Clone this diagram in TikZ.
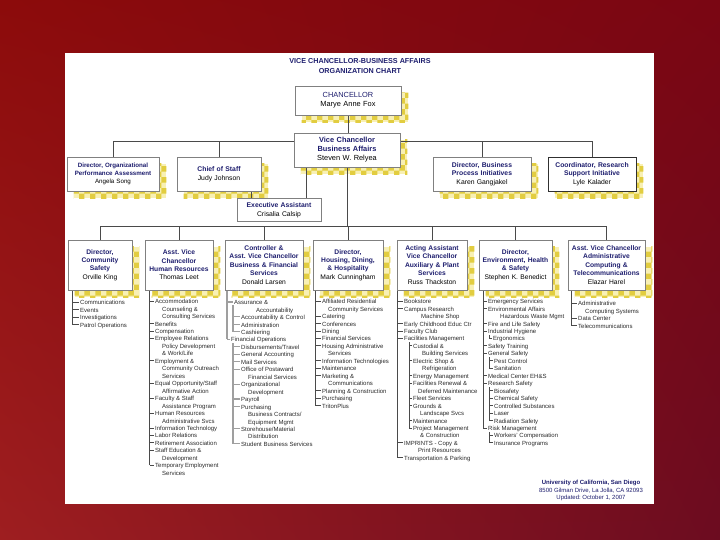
\documentclass[tikz,border=0pt]{standalone}
\usepackage{fontspec}
\setmainfont{Liberation Sans}
\usetikzlibrary{patterns,calc,shadings}
\frenchspacing
\definecolor{navy}{HTML}{1E1E6E}
\definecolor{boxgray}{HTML}{808080}
\definecolor{boxdark}{HTML}{303030}
\definecolor{linegray}{HTML}{4A4A4A}
\definecolor{listtxt}{HTML}{2B2B2B}
\definecolor{chkA}{HTML}{F8F0B4}
\definecolor{chkB}{HTML}{E2CD40}
\definecolor{redUL}{HTML}{8C0B0B}
\definecolor{redUR}{HTML}{7A0613}
\definecolor{redLL}{HTML}{9E1E20}
\definecolor{redLR}{HTML}{6C0C20}
\pgfdeclarelayer{back}\pgfdeclarelayer{shad}\pgfdeclarelayer{lines}
\pgfsetlayers{back,shad,lines,main}
\newcommand\bxhd[1]{{\bfseries\color{navy}#1}}
\def\mknone{n}
\newcommand\mklist[4]{%
  \foreach \i/\xx/\tk/\t in {#4}{%
    \node[li] (#1-\i) at (\xx,{#2+(\i-1)*7.46}) {\t};
    \edef\mktmp{\tk}%
    \ifx\mktmp\mknone\else
      \begin{pgfonlayer}{lines}\draw[#3] (\tk |- #1-\i.mid west) -- ([xshift=-1pt]#1-\i.mid west);\end{pgfonlayer}%
    \fi
  }}
\tikzset{
  bx/.style={draw=boxgray, fill=white, line width=0.6pt, inner sep=0.5pt, align=center, text=black},
  rowthree/.style={bx, font=\fontsize{6.7}{8.4}\selectfont, minimum height=50pt},
  rowtwo/.style={bx, font=\fontsize{6.8}{8.6}\selectfont, minimum height=34pt},
  li/.style={font=\fontsize{6}{7}\selectfont, text=listtxt, inner sep=0pt, anchor=mid west},
  tree/.style={draw=linegray, line width=0.6pt},
  treethick/.style={draw=gray!75, line width=1.1pt},
  conn/.style={draw=linegray, line width=0.6pt},
}
\begin{document}
\begin{tikzpicture}[x=1pt,y=-1pt]
\useasboundingbox (0,0) rectangle (720,540);
\begin{pgfonlayer}{back}
  \shade[upper left=redUL, upper right=redUR, lower left=redLL, lower right=redLR] (0,0) rectangle (720,540);
  \fill[white] (65,53) rectangle (654,504);
\end{pgfonlayer}

% title
\node[font=\bfseries\fontsize{7.2}{10}\selectfont, text=navy, align=center] (title) at (360,66)
  {VICE CHANCELLOR-BUSINESS AFFAIRS\\ORGANIZATION CHART};

% top boxes
\node[bx, font=\fontsize{7.4}{9}\selectfont, text width=105pt, minimum height=29pt] (ch) at (348,100.5)
  {{\color{navy}CHANCELLOR}\\Marye Anne Fox};
\node[bx, font=\fontsize{7.4}{9}\selectfont, text width=105pt, minimum height=34pt] (vc) at (347,150)
  {\bxhd{Vice Chancellor\\Business Affairs}\\Steven W. Relyea};

% row two
\node[rowtwo, font=\fontsize{6.2}{8.2}\selectfont, text width=91pt] (d1) at (113,174)
  {\bxhd{Director, Organizational\\Performance Assessment}\\Angela Song};
\node[rowtwo, text width=83pt] (d2) at (219,174) {\bxhd{Chief of Staff}\\Judy Johnson};
\node[rowtwo, text width=97pt] (d3) at (482,174) {\bxhd{Director, Business\\Process Initiatives}\\Karen Gangjakel};
\node[rowtwo, draw=boxdark, text width=87pt] (d4) at (592,174) {\bxhd{Coordinator, Research\\Support Initiative}\\Lyle Kalader};
\node[bx, font=\fontsize{6.8}{8.6}\selectfont, text width=83pt, minimum height=23pt] (ex) at (279,210)
  {\bxhd{Executive Assistant}\\Crisalia Calsip};

% row three
\node[rowthree, text width=63pt] (b1) at (100,265) {\bxhd{Director,\\Community\\Safety}\\Orville King};
\node[rowthree, text width=67pt] (b2) at (179,265) {\bxhd{Asst. Vice\\Chancellor\\Human Resources}\\Thomas Leet};
\node[rowthree, text width=77pt] (b3) at (264,265) {\bxhd{Controller \&\\Asst. Vice Chancellor\\Business \& Financial\\Services}\\Donald Larsen};
\node[rowthree, text width=69pt] (b4) at (348,265) {\bxhd{Director,\\Housing, Dining,\\\& Hospitality}\\Mark Cunningham};
\node[rowthree, text width=69pt] (b5) at (432,265) {\bxhd{Acting Assistant\\Vice Chancellor\\Auxiliary \& Plant\\Services}\\Russ Thackston};
\node[rowthree, text width=72pt] (b6) at (515.5,265) {\bxhd{Director,\\Environment, Health\\\& Safety}\\Stephen K. Benedict};
\node[rowthree, text width=76pt] (b7) at (606.5,265) {\bxhd{Asst. Vice Chancellor\\Administrative\\Computing \&\\Telecommunications}\\Elazar Harel};

% shadows
\begin{pgfonlayer}{shad}
\foreach \n in {ch,vc,d1,d2,d3,d4,b1,b2,b3,b4,b5,b6,b7}{
  \fill[chkA] ([shift={(7,7)}]\n.north west) rectangle ([shift={(7,7)}]\n.south east);
  \fill[pattern=checkerboard, pattern color=chkB] ([shift={(7,7)}]\n.north west) rectangle ([shift={(7,7)}]\n.south east);
}
\end{pgfonlayer}

% connectors
\coordinate (bustwo) at (0,141);
\coordinate (busthree) at (0,226);
\coordinate (vx) at (306,0);
\coordinate (cx) at (251,0);
\begin{pgfonlayer}{lines}
  \draw[conn] (ch.south) -- (ch.south |- vc.north);
  \draw[conn] (d1.north |- bustwo) -- (d4.north |- bustwo);
  \foreach \n in {d1,d2,d3,d4} \draw[conn] (\n.north) -- (\n.north |- bustwo);
  \draw[conn] (vc.south) -- (vc.south |- busthree);
  \draw[conn] (b1.north |- busthree) -- (b7.north |- busthree);
  \foreach \n in {b1,b2,b3,b4,b5,b6,b7} \draw[conn] (\n.north) -- (\n.north |- busthree);
  \draw[conn] (vx |- vc.south) -- (vx |- ex.north);
  \draw[conn] (cx |- d2.south) -- (cx |- ex.north);
\end{pgfonlayer}

% trunk x positions
\coordinate (T1) at (72,0);
\coordinate (T2) at (149.5,0);
\coordinate (T3) at (227,0);
\coordinate (S3) at (233,0);
\coordinate (T4) at (315,0);
\coordinate (T5) at (397.5,0);
\coordinate (S5) at (409,0);
\coordinate (T6) at (483,0);
\coordinate (S6) at (489,0);
\coordinate (T7) at (571,0);

\mklist{c1}{302}{tree}{1/80/T1/{Communications},2/80/T1/{Events},3/80/T1/{Investigations},4/80/T1/{Patrol Operations}}

\mklist{c2}{301}{tree}{1/155/T2/{Accommodation},2/162/n/{Counseling \&},3/162/n/{Consulting Services},
4/155/T2/{Benefits},5/155/T2/{Compensation},6/155/T2/{Employee Relations},7/162/n/{Policy Development},
8/162/n/{\& Work/Life},9/155/T2/{Employment \&},10/162/n/{Community Outreach},11/162/n/{Services},
12/155/T2/{Equal Opportunity/Staff},13/162/n/{Affirmative Action},14/155/T2/{Faculty \& Staff},
15/162/n/{Assistance Program},16/155/T2/{Human Resources},17/162/n/{Administrative Svcs},
18/155/T2/{Information Technology},19/155/T2/{Labor Relations},20/155/T2/{Retirement Association},
21/155/T2/{Staff Education \&},22/162/n/{Development},23/155/T2/{Temporary Employment},24/162/n/{Services}}

\mklist{c3}{302}{treethick}{1/234/T3/{Assurance \&},2/256/n/{Accountability},3/241/S3/{Accountability \& Control},
4/241/S3/{Administration},5/241/S3/{Cashiering},6/231/T3/{Financial Operations},7/241/S3/{Disbursements/Travel},
8/241/S3/{General Accounting},9/241/S3/{Mail Services},10/241/S3/{Office of Postaward},11/248/n/{Financial Services},
12/241/S3/{Organizational},13/248/n/{Development},14/241/S3/{Payroll},15/241/S3/{Purchasing},
16/248/n/{Business Contracts/},17/248/n/{Equipment Mgmt},18/241/S3/{Storehouse/Material},19/248/n/{Distribution},
20/241/S3/{Student Business Services}}

\mklist{c4}{301}{tree}{1/322/T4/{Affiliated Residential},2/328/n/{Community Services},3/322/T4/{Catering},
4/322/T4/{Conferences},5/322/T4/{Dining},6/322/T4/{Financial Services},7/322/T4/{Housing Administrative},
8/328/n/{Services},9/322/T4/{Information Technologies},10/322/T4/{Maintenance},11/322/T4/{Marketing \&},
12/328/n/{Communications},13/322/T4/{Planning \& Construction},14/322/T4/{Purchasing},15/322/T4/{TritonPlus}}

\mklist{c5}{301}{tree}{1/404/T5/{Bookstore},2/404/T5/{Campus Research},3/421/n/{Machine Shop},
4/404/T5/{Early Childhood Educ Ctr},5/404/T5/{Faculty Club},6/404/T5/{Facilities Management},
7/413/S5/{Custodial \&},8/422/n/{Building Services},9/413/S5/{Electric Shop \&},10/422/n/{Refrigeration},
11/413/S5/{Energy Management},12/413/S5/{Facilities Renewal \&},13/418/n/{Deferred Maintenance},
14/413/S5/{Fleet Services},15/413/S5/{Grounds \&},16/420/n/{Landscape Svcs},17/413/S5/{Maintenance},
18/413/S5/{Project Management},19/420/n/{\& Construction},20/404/T5/{IMPRINTS - Copy \&},
21/418/n/{Print Resources},22/404/T5/{Transportation \& Parking}}

\mklist{c6}{301}{tree}{1/488/T6/{Emergency Services},2/488/T6/{Environmental Affairs},3/500/n/{Hazardous Waste Mgmt},
4/488/T6/{Fire and Life Safety},5/488/T6/{Industrial Hygiene},6/493/S6/{Ergonomics},7/488/T6/{Safety Training},
8/488/T6/{General Safety},9/494/S6/{Pest Control},10/494/S6/{Sanitation},11/488/T6/{Medical Center EH\&S},
12/488/T6/{Research Safety},13/494/S6/{Biosafety},14/494/S6/{Chemical Safety},15/494/S6/{Controlled Substances},
16/494/S6/{Laser},17/494/S6/{Radiation Safety},18/488/T6/{Risk Management},19/494/S6/{Workers' Compensation},
20/494/S6/{Insurance Programs}}

\mklist{c7}{303}{tree}{1/578/T7/{Administrative},2/585/n/{Computing Systems},3/578/T7/{Data Center},4/578/T7/{Telecommunications}}

% trunks
\begin{pgfonlayer}{lines}
  \draw[tree] (T1 |- b1.south) -- (T1 |- c1-4.mid west);
  \draw[tree] (T2 |- b2.south) -- (T2 |- c2-23.mid west);
  \draw[treethick] (T3 |- b3.south) -- (T3 |- c3-6.mid west);
  \draw[treethick] (S3 |- c3-1.south) -- (S3 |- c3-5.mid west);
  \draw[treethick] (S3 |- c3-6.south) -- (S3 |- c3-20.mid west);
  \draw[tree] (T4 |- b4.south) -- (T4 |- c4-15.mid west);
  \draw[tree] (T5 |- b5.south) -- (T5 |- c5-22.mid west);
  \draw[tree] (S5 |- c5-6.south) -- (S5 |- c5-18.mid west);
  \draw[tree] (T6 |- b6.south) -- (T6 |- c6-18.mid west);
  \draw[tree] (S6 |- c6-5.south) -- (S6 |- c6-6.mid west);
  \draw[tree] (S6 |- c6-8.south) -- (S6 |- c6-10.mid west);
  \draw[tree] (S6 |- c6-12.south) -- (S6 |- c6-17.mid west);
  \draw[tree] (S6 |- c6-18.south) -- (S6 |- c6-20.mid west);
  \draw[tree] (T7 |- b7.south) -- (T7 |- c7-4.mid west);
\end{pgfonlayer}

% footer
\node[font=\fontsize{6}{7.5}\selectfont, text=navy, align=center] (foot) at (591,490.5)
  {\textbf{University of California, San Diego}\\8500 Gilman Drive, La Jolla, CA 92093\\Updated: October 1, 2007};
\end{tikzpicture}
\end{document}
